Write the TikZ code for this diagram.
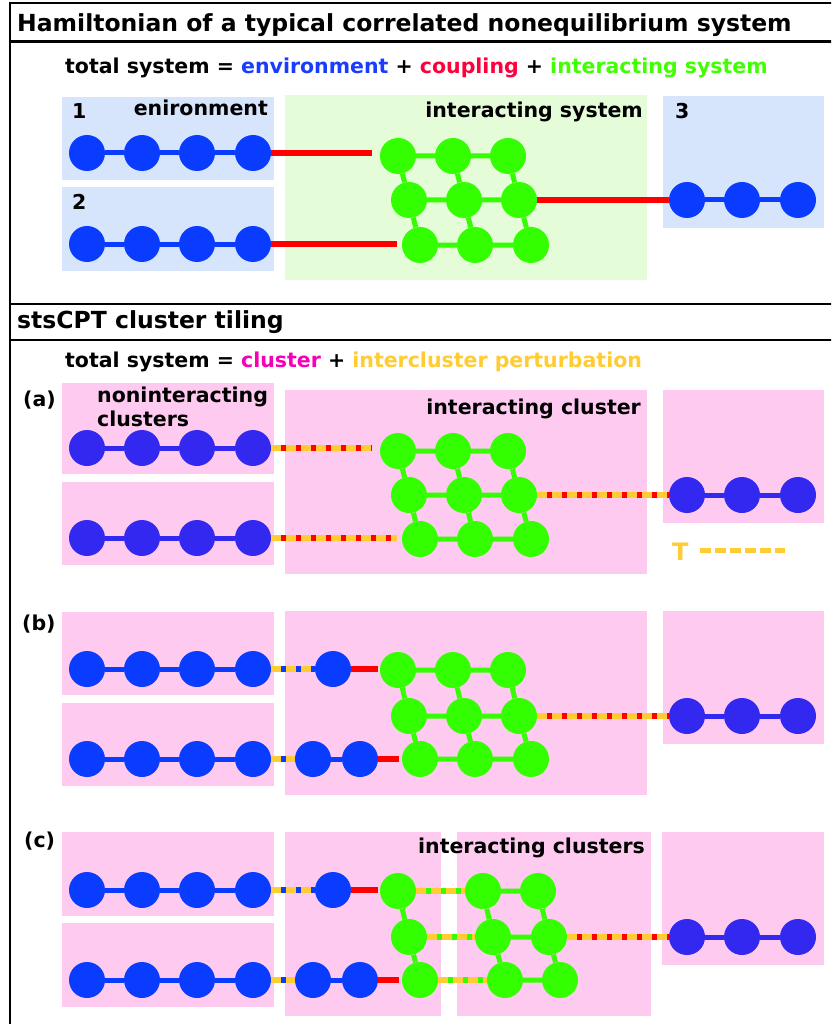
\documentclass[tikz,border=0pt]{standalone}
\usepackage{fontspec}
\setmainfont{DejaVu Sans}
\usetikzlibrary{calc}

\definecolor{envblue}{RGB}{10,60,255}
\definecolor{clublue}{RGB}{50,40,240}
\definecolor{latgreen}{RGB}{51,255,0}
\definecolor{cred}{RGB}{255,0,0}
\definecolor{pyellow}{RGB}{255,204,51}
\definecolor{envbg}{RGB}{214,228,252}
\definecolor{sysbg}{RGB}{228,252,216}
\definecolor{clbg}{RGB}{254,202,240}
\definecolor{txtblue}{RGB}{25,60,255}
\definecolor{txtred}{RGB}{255,0,60}
\definecolor{txtgreen}{RGB}{64,255,0}
\definecolor{txtmag}{RGB}{245,0,185}

\tikzset{
  site/.style={circle, inner sep=0pt, minimum size=36pt, fill=#1},
  esite/.style={site=envblue},
  csite/.style={site=clublue},
  gsite/.style={site=latgreen},
  bond/.style={line width=5pt, draw=#1},
  coup/.style={line width=5.5pt, draw=cred},
  pbase/.style={line width=5.5pt, draw=pyellow},
  pdash/.style={line width=5.5pt, draw=#1, dash pattern=on 5pt off 10pt, dash phase=5pt},
  lbl/.style={font=\bfseries\fontsize{20.5}{24}\selectfont, inner sep=0pt},
  ttl/.style={font=\bfseries\fontsize{23.5}{28}\selectfont, inner sep=0pt},
  frame/.style={line width=2.5pt, draw=black},
}

% perturbation bond: yellow line with coloured dashes on top
\newcommand\pertline[3]{%
  \draw[pbase] #1 -- #2;
  \draw[pdash=#3] #1 -- #2;}

% four-site chain on the left
\newcommand\lchain[4]{%
  \node[#3] (#1a) at (87,#2) {};
  \node[#3] (#1b) at (142,#2) {};
  \node[#3] (#1c) at (197,#2) {};
  \node[#3] (#1d) at (253,#2) {};
  \draw[bond=#4] (#1a) -- (#1b) (#1b) -- (#1c) (#1c) -- (#1d);}

% three-site chain on the right
\newcommand\rchain[4]{%
  \node[#3] (#1a) at (687,#2) {};
  \node[#3] (#1b) at (742,#2) {};
  \node[#3] (#1c) at (798,#2) {};
  \draw[bond=#4] (#1a) -- (#1b) (#1b) -- (#1c);}

% 3x3 interacting lattice
\newcommand\latt[4]{%
  \node[gsite] (#111) at (398,#2) {};
  \node[gsite] (#112) at (453,#2) {};
  \node[gsite] (#113) at (508,#2) {};
  \node[gsite] (#121) at (409,#3) {};
  \node[gsite] (#122) at (464,#3) {};
  \node[gsite] (#123) at (519,#3) {};
  \node[gsite] (#131) at (420,#4) {};
  \node[gsite] (#132) at (475,#4) {};
  \node[gsite] (#133) at (531,#4) {};
  \draw[bond=latgreen] (#111) -- (#112) (#112) -- (#113)
    (#121) -- (#122) (#122) -- (#123)
    (#131) -- (#132) (#132) -- (#133)
    (#111) -- (#121) (#121) -- (#131)
    (#112) -- (#122) (#122) -- (#132)
    (#113) -- (#123) (#123) -- (#133);}

\begin{document}
\begin{tikzpicture}[x=1pt,y=-1pt]
\useasboundingbox (0,0) rectangle (831,1024);
\clip (0,0) rectangle (831,1024);
\fill[white] (0,0) rectangle (831,1024);

% ---------- frame and headers ----------
\draw[frame] (10,3) rectangle (860,1060);
\draw[frame] (10,41.5) -- (860,41.5);
\draw[frame] (10,304) -- (860,304);
\draw[frame] (10,340) -- (860,340);
\node[ttl, anchor=base west] (h1) at (17,32) {Hamiltonian of a typical correlated nonequilibrium system};
\node[ttl, anchor=base west] (h2) at (17,328) {stsCPT cluster tiling};
\node[lbl, anchor=base west] (eq1) at (65,74) {total system = \textcolor{txtblue}{environment} + \textcolor{txtred}{coupling} + \textcolor{txtgreen}{interacting system}};
\node[lbl, anchor=base west] (eq2) at (65,367) {total system = \textcolor{txtmag}{cluster} + \textcolor{pyellow}{intercluster perturbation}};

% ---------- top panel: physical system ----------
\fill[envbg] (62,97) rectangle (274,180);
\fill[envbg] (62,187) rectangle (274,271);
\fill[sysbg] (285,95) rectangle (647,280);
\fill[envbg] (663,96) rectangle (824,228);
\node[lbl, anchor=base west] (n1) at (72,119) {1};
\node[lbl, anchor=base west] (n2) at (72,210) {2};
\node[lbl, anchor=base west] (n3) at (675,119) {3};
\node[lbl, anchor=base east] (envl) at (268,116) {enironment};
\node[lbl, anchor=base east] (sysl) at (643,118) {interacting system};

\lchain{ta}{153}{esite}{envblue}
\lchain{tb}{244}{esite}{envblue}
\rchain{tc}{200}{esite}{envblue}
\latt{t}{156}{200}{245}
\coordinate (tae) at (372,153);
\coordinate (tbe) at (397,244);
\draw[coup] (tad.east) -- (tae);
\draw[coup] (tbd.east) -- (tbe);
\draw[coup] (t23.east) -- (t23.east -| tca.west);

% ---------- (a) ----------
\fill[clbg] (62,383) rectangle (274,474);
\fill[clbg] (62,482) rectangle (274,565);
\fill[clbg] (285,390) rectangle (647,574);
\fill[clbg] (663,390) rectangle (824,523);
\node[lbl, anchor=base west] (la) at (23,406) {(a)};
\node[lbl, anchor=base west] (nil) at (97,402) {noninteracting};
\node[lbl, anchor=base west] (nil2) at (97,426) {clusters};
\node[lbl, anchor=base east] (icl) at (641,414) {interacting cluster};

\lchain{aa}{448}{csite}{clublue}
\lchain{ab}{538}{csite}{clublue}
\rchain{ac}{495}{csite}{clublue}
\latt{a}{451}{495}{539}
\coordinate (aae) at (372,448);
\coordinate (abe) at (397,538);
\pertline{(aad.east)}{(aae)}{cred}
\pertline{(abd.east)}{(abe)}{cred}
\pertline{(a23.east)}{(a23.east -| aca.west)}{cred}

\node[font=\bfseries\fontsize{24}{28}\selectfont, text=pyellow, inner sep=0pt, anchor=base west] (tl) at (672,560) {T};
\coordinate (tls) at (700,550);
\coordinate (tle) at (785,550);
\draw[line width=5pt, draw=pyellow, dash pattern=on 11pt off 4pt] (tls) -- (tle);

% ---------- (b) ----------
\fill[clbg] (62,612) rectangle (274,695);
\fill[clbg] (62,703) rectangle (274,786);
\fill[clbg] (285,611) rectangle (647,795);
\fill[clbg] (663,611) rectangle (824,744);
\node[lbl, anchor=base west] (lb) at (22,630) {(b)};

\lchain{ba}{669}{esite}{envblue}
\lchain{bb}{759}{esite}{envblue}
\rchain{bc}{716}{csite}{clublue}
\latt{b}{670}{716}{759}
\node[esite] (bx1) at (333,669) {};
\node[esite] (by1) at (313,759) {};
\node[esite] (by2) at (360,759) {};
\draw[bond=envblue] (by1) -- (by2);
\pertline{(bad.east)}{(bx1.west)}{envblue}
\pertline{(bbd.east)}{(by1.west)}{envblue}
\draw[coup] (bx1.east) -- ([xshift=-2pt]bx1.east -| b11.west);
\draw[coup] (by2.east) -- ([xshift=-3pt]by2.east -| b31.west);
\pertline{(b23.east)}{(b23.east -| bca.west)}{cred}

% ---------- (c) ----------
\fill[clbg] (62,832) rectangle (274,916);
\fill[clbg] (62,923) rectangle (274,1007);
\fill[clbg] (285,832) rectangle (441,1016);
\fill[clbg] (457,832) rectangle (651,1016);
\fill[clbg] (662,832) rectangle (824,965);
\node[lbl, anchor=base west] (lc) at (24,847) {(c)};
\node[lbl, anchor=base east] (icls) at (645,853) {interacting clusters};

\lchain{ca}{890}{esite}{envblue}
\lchain{cb}{980}{esite}{envblue}
\rchain{cc}{937}{csite}{clublue}
\node[esite] (cx1) at (333,890) {};
\node[esite] (cy1) at (313,980) {};
\node[esite] (cy2) at (360,980) {};
\draw[bond=envblue] (cy1) -- (cy2);
% split lattice: first column in one cluster, the rest in another
\node[gsite] (c11) at (398,891) {};
\node[gsite] (c12) at (483,891) {};
\node[gsite] (c13) at (538,891) {};
\node[gsite] (c21) at (409,937) {};
\node[gsite] (c22) at (493,937) {};
\node[gsite] (c23) at (549,937) {};
\node[gsite] (c31) at (420,980) {};
\node[gsite] (c32) at (505,980) {};
\node[gsite] (c33) at (560,980) {};
\draw[bond=latgreen] (c12) -- (c13) (c22) -- (c23) (c32) -- (c33)
  (c11) -- (c21) (c21) -- (c31)
  (c12) -- (c22) (c22) -- (c32)
  (c13) -- (c23) (c23) -- (c33);
\pertline{(c11.east)}{(c12.west)}{latgreen}
\pertline{(c21.east)}{(c22.west)}{latgreen}
\pertline{(c31.east)}{(c32.west)}{latgreen}
\pertline{(cad.east)}{(cx1.west)}{envblue}
\pertline{(cbd.east)}{(cy1.west)}{envblue}
\draw[coup] (cx1.east) -- ([xshift=-2pt]cx1.east -| c11.west);
\draw[coup] (cy2.east) -- ([xshift=-3pt]cy2.east -| c31.west);
\pertline{(c23.east)}{(c23.east -| cca.west)}{cred}
\end{tikzpicture}
\end{document}
